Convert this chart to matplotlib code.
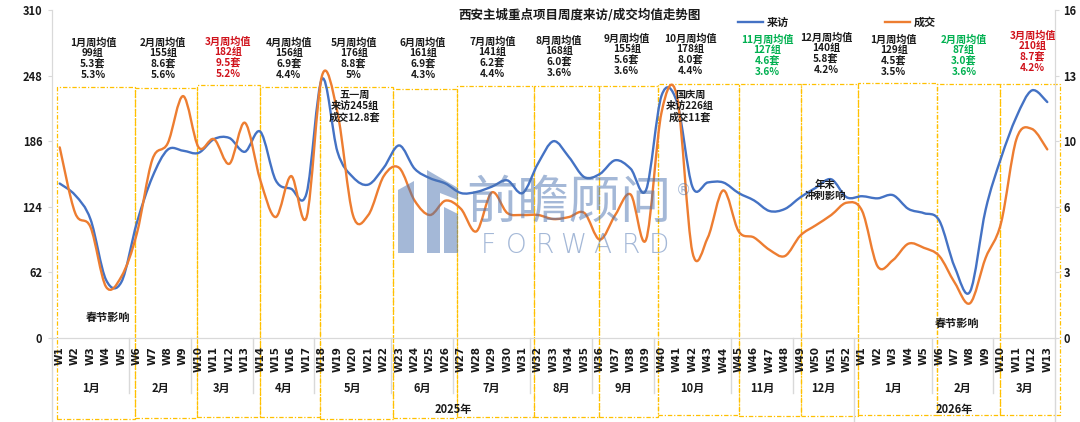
import matplotlib
matplotlib.use('Agg')
import matplotlib.pyplot as plt
from matplotlib.path import Path
from matplotlib.patches import PathPatch, Rectangle, Polygon
from matplotlib.lines import Line2D
import matplotlib.transforms as mtransforms
import numpy as np

plt.rcParams['font.family'] = ['Noto Sans CJK SC', 'DejaVu Sans']

# ---------------- data ----------------
title = '西安主城重点项目周度来访/成交均值走势图'
week_labels = ([f'W{i}' for i in range(1, 53)] + [f'W{i}' for i in range(1, 14)])
months = ['1月', '2月', '3月', '4月', '5月', '6月', '7月', '8月', '9月', '10月',
          '11月', '12月', '1月', '2月', '3月']
month_weeks = [5, 4, 4, 4, 5, 4, 5, 4, 4, 5, 4, 4, 5, 4, 4]
years = ['2025年', '2026年']
year_weeks = [52, 13]

visits = [146, 135, 112, 55, 53, 109, 152, 178, 177, 175, 188, 189, 176, 195, 149, 141, 137,
          245, 176, 152, 145, 161, 182, 160, 151, 146, 137, 138, 143, 149, 137, 165, 186, 171,
          152, 155, 168, 160, 140, 229, 223, 143, 147, 147, 137, 130, 120, 122, 133, 142, 150,
          133, 134, 132, 135, 122, 118, 111, 67, 44, 121, 170, 209, 234, 223]
deals = [9.3, 6.1, 5.4, 2.5, 3.0, 5.1, 8.7, 9.5, 11.8, 9.3, 9.7, 8.5, 10.5, 7.7, 5.9, 7.9, 5.9,
         12.8, 11.0, 6.0, 6.0, 7.9, 8.3, 6.7, 6.0, 6.7, 6.3, 5.2, 7.1, 6.1, 6.0, 6.0, 5.8, 5.9,
         6.1, 4.8, 6.0, 7.0, 4.8, 11.0, 11.8, 4.2, 4.9, 7.2, 5.2, 4.9, 4.3, 4.0, 5.0, 5.5, 6.0,
         6.6, 6.2, 3.5, 3.8, 4.6, 4.4, 4.0, 2.7, 1.7, 3.9, 5.6, 9.7, 10.2, 9.2]

avg_visits = [99, 155, 182, 156, 176, 161, 141, 168, 155, 178, 127, 140, 129, 87, 210]
avg_deals = ['5.3', '8.6', '9.5', '6.9', '8.8', '6.9', '6.2', '6.0', '5.6', '8.0', '4.6',
             '5.8', '4.5', '3.0', '8.7']
avg_rates = ['5.3%', '5.6%', '5.2%', '4.4%', '5%', '4.3%', '4.4%', '3.6%', '3.6%', '4.4%',
             '3.6%', '4.2%', '3.5%', '3.6%', '4.2%']

series_names = ['来访', '成交']
y_left_max = 310
y_right_max = 16
right_tick_labels = ['0', '3', '6', '10', '13', '16']

# ---------------- style / layout ----------------
W, H = 1080, 422
BLUE = '#4472C4'
ORANGE = '#ED7D31'
GOLD = '#FFC000'
GRID = '#D9D9D9'
RED = '#D0121B'
GREEN = '#00B050'
avg_colors = ['#1a1a1a'] * 15
avg_colors[2] = RED
avg_colors[14] = RED
avg_colors[10] = GREEN
avg_colors[13] = GREEN
avg_x = [2.15, 6.7, 10.9, 14.85, 19.05, 23.55, 28.05, 32.35, 36.75, 40.85, 45.85, 49.65,
         54.05, 58.6, 63.05]
avg_top_px = [43, 43, 42, 43, 43, 43, 42, 41, 39, 39, 40, 38, 40, 40, 36]
box_edges = [-0.18, 4.88, 8.9, 12.98, 16.87, 21.6, 25.75, 30.74, 34.95, 38.77, 44.02, 48.04,
             51.74, 56.86, 60.94, 64.83]
box_top_px = [87, 88, 85, 87, 87, 89, 86, 86, 86, 84, 84, 84, 83, 84, 84]
box_bot_px = [419, 418, 417, 417, 419, 418, 417, 417, 417, 415, 416, 416, 415, 415, 415]

AX_L, AX_R, AX_T, AX_B = 52, 1055, 10, 338


def fx(px):
    return px / W


def fy(py):
    return 1 - py / H


def ay(py):
    return (AX_B - py) / (AX_B - AX_T)


fig = plt.figure(figsize=(W / 100, H / 100), dpi=100)
ax = fig.add_axes([fx(AX_L), fy(AX_B), (AX_R - AX_L) / W, (AX_B - AX_T) / H])
ax2 = ax.twinx()

n = len(visits)
ax.set_xlim(-0.5, n - 0.5)
ax.set_ylim(0, y_left_max)
ax2.set_ylim(0, y_right_max)


def smooth_path(xs, ys):
    P = np.column_stack([xs, ys]).astype(float)
    m = len(P)
    verts = [P[0]]
    codes = [Path.MOVETO]
    for i in range(m - 1):
        p0 = P[max(i - 1, 0)]
        p1 = P[i]
        p2 = P[i + 1]
        p3 = P[min(i + 2, m - 1)]
        c1 = p1 + (p2 - p0) / 6.0
        c2 = p2 - (p3 - p1) / 6.0
        verts += [c1, c2, p2]
        codes += [Path.CURVE4] * 3
    return Path(verts, codes)


xs = np.arange(n)
ax.add_patch(PathPatch(smooth_path(xs, visits), facecolor='none', edgecolor=BLUE,
                       lw=1.7, zorder=3, capstyle='round', joinstyle='round'))
ax2.add_patch(PathPatch(smooth_path(xs, deals), facecolor='none', edgecolor=ORANGE,
                        lw=1.7, zorder=3, capstyle='round', joinstyle='round'))

# spines
for a in (ax, ax2):
    a.spines['top'].set_visible(False)
    a.spines['left'].set_color(GRID)
    a.spines['right'].set_color(GRID)
    a.spines['bottom'].set_color(GRID)
    a.set_facecolor('none')

ax.set_yticks(np.linspace(0, y_left_max, 6))
ax.set_yticklabels([f'{int(v)}' for v in np.linspace(0, y_left_max, 6)],
                   fontsize=8, fontweight='bold', color='#1a1a1a')
ax.tick_params(axis='y', length=3, color=GRID, pad=4)
ax2.set_yticks(np.linspace(0, y_right_max, 6))
ax2.set_yticklabels(right_tick_labels, fontsize=8, fontweight='bold', color='#1a1a1a')
ax2.tick_params(axis='y', length=3, color=GRID, pad=3)

ax.set_xticks(xs)
ax.set_xticklabels(week_labels, rotation=90, fontsize=7.5, fontweight='bold',
                   color='#1a1a1a', family=['DejaVu Sans'])
ax.tick_params(axis='x', length=0, pad=6)

bt = mtransforms.blended_transform_factory(ax.transData, ax.transAxes)

# multi-level category separators
cum = np.cumsum(month_weeks)
year_bounds = set(np.cumsum(year_weeks))
for b in cum[:-1]:
    bottom = ay(422) if b in year_bounds else ay(393)
    ax.add_line(Line2D([b - 0.5, b - 0.5], [0, bottom], transform=bt, color=GRID,
                       lw=1, clip_on=False))
for xe in (-0.5, n - 0.5):
    ax.add_line(Line2D([xe, xe], [0, ay(422)], transform=bt, color=GRID, lw=1,
                       clip_on=False))

starts = np.concatenate([[0], cum[:-1]])
for m, s, c in zip(months, starts, month_weeks):
    ax.text(s + (c - 1) / 2, ay(388), m, transform=bt, ha='center', va='center',
            fontsize=8, fontweight='bold', color='#1a1a1a')
ystarts = np.concatenate([[0], np.cumsum(year_weeks)[:-1]])
for yname, s, c in zip(years, ystarts, year_weeks):
    ax.text(s + (c - 1) / 2, ay(409), yname, transform=bt, ha='center', va='center',
            fontsize=8, fontweight='bold', color='#1a1a1a')

# gold dash-dot boxes
for i in range(len(box_edges) - 1):
    x0, x1 = box_edges[i], box_edges[i + 1]
    y0, y1 = ay(box_bot_px[i]), ay(box_top_px[i])
    ax.add_patch(Rectangle((x0, y0), x1 - x0, y1 - y0, transform=bt, fill=False,
                           edgecolor=GOLD, lw=0.9, linestyle=(0, (3.5, 1.5, 1, 1.5)),
                           clip_on=False, zorder=1))

# month average annotations
for i in range(len(months)):
    txt = f'{months[i]}周均值\n{avg_visits[i]}组\n{avg_deals[i]}套\n{avg_rates[i]}'
    ax.text(avg_x[i], ay(avg_top_px[i] - 6), txt, transform=bt, ha='center', va='top',
            fontsize=7.3, fontweight='bold', color=avg_colors[i], linespacing=1.12)

# other annotations
def ftext(px, py, s, **kw):
    fig.text(fx(px), fy(py), s, ha='center', va='center', fontweight='bold', **kw)

ftext(355, 106, '五一周\n来访245组\n成交12.8套', fontsize=7.3, linespacing=1.12, color='#1a1a1a')
ftext(690, 106, '国庆周\n来访226组\n成交11套', fontsize=7.3, linespacing=1.12, color='#1a1a1a')
ftext(825, 190, '年末\n冲刺影响', fontsize=7.5, linespacing=1.1, color='#1a1a1a')
ftext(108, 317, '春节影响', fontsize=8, color='#1a1a1a')
ftext(957, 323, '春节影响', fontsize=8, color='#1a1a1a')

# title
ftext(580, 15, title, fontsize=9, color='#1a1a1a')

# legend
fig.add_artist(Line2D([fx(738), fx(763)], [fy(22), fy(22)], transform=fig.transFigure,
                      color=BLUE, lw=1.7))
fig.text(fx(767), fy(22), series_names[0], ha='left', va='center', fontsize=8,
         fontweight='bold', color='#1a1a1a')
fig.add_artist(Line2D([fx(885), fx(910)], [fy(22), fy(22)], transform=fig.transFigure,
                      color=ORANGE, lw=1.7))
fig.text(fx(914), fy(22), series_names[1], ha='left', va='center', fontsize=8,
         fontweight='bold', color='#1a1a1a')

# watermark
WM = '#4A72B0'
wa = 0.5
def fpoly(pts):
    return Polygon([(fx(x), fy(y)) for x, y in pts], closed=True, transform=fig.transFigure,
                   facecolor=WM, edgecolor='none', alpha=wa, zorder=10)

fig.add_artist(fpoly([(398, 190), (414, 181), (414, 253), (398, 253)]))
fig.add_artist(fpoly([(427, 170), (458, 188), (458, 200), (440, 193), (440, 253), (427, 253)]))
fig.add_artist(fpoly([(444, 207), (458, 214), (458, 253), (444, 253)]))
fig.text(fx(569), fy(203), '前瞻顾问', ha='center', va='center', fontsize=37, color=WM,
         alpha=wa, zorder=10, fontweight='light')
for k, ch in enumerate('FORWARD'):
    fig.text(fx(488 + k * 28.5), fy(245), ch, ha='center', va='center', fontsize=19,
             color=WM, alpha=wa, zorder=10, family=['DejaVu Sans'], fontweight='light')
fig.text(fx(683), fy(190), '®', ha='center', va='center', fontsize=11, color=WM,
         alpha=wa, zorder=10, family=['DejaVu Sans'])

fig.savefig('out.png', dpi=100)
